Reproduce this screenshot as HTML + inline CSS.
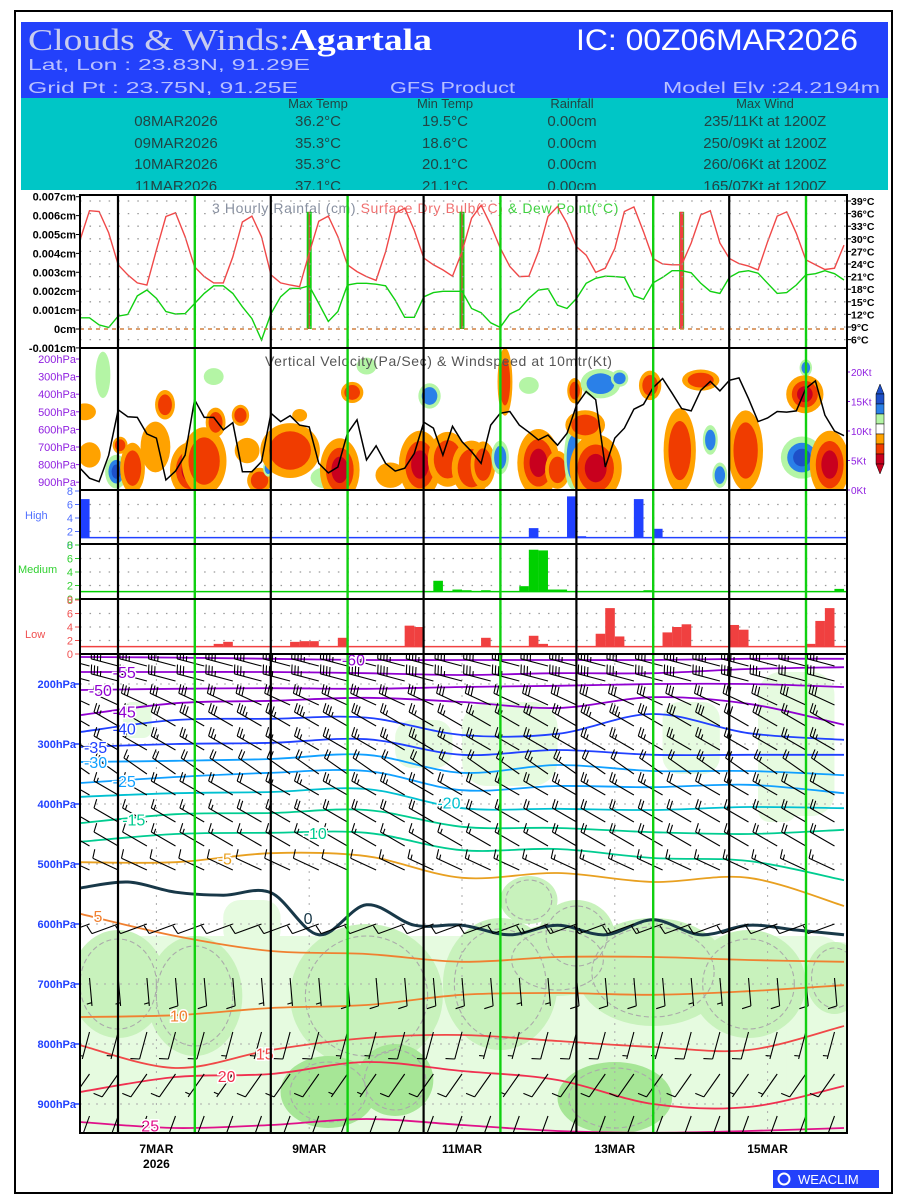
<!DOCTYPE html>
<html><head><meta charset="utf-8"><title>Clouds & Winds: Agartala</title>
<style>
html,body{margin:0;padding:0;background:#fff;}
svg{display:block;}
</style></head>
<body>
<svg id="chart" width="900" height="1200" viewBox="0 0 900 1200" xmlns="http://www.w3.org/2000/svg" font-family="Liberation Sans, sans-serif">
<defs>
<clipPath id="clipVV"><rect x="80" y="349" width="767" height="141"/></clipPath>
<clipPath id="clipMain"><rect x="80" y="655" width="767" height="478"/></clipPath>
<clipPath id="clipTop"><rect x="80" y="195" width="767" height="153"/></clipPath>
</defs>
<rect x="15" y="11" width="877" height="1182" fill="#fff" stroke="#000" stroke-width="2"/>
<g>
<rect x="21" y="22" width="867" height="76" fill="#2341fb"/>
<rect x="21" y="98" width="867" height="92" fill="#00c6c6"/>
<text x="28" y="50" style="font-family:'Liberation Serif',serif;font-size:31px" fill="#c8ccf0" textLength="404" lengthAdjust="spacingAndGlyphs">Clouds &amp; Winds:<tspan font-weight="bold" fill="#fff">Agartala</tspan></text>
<text x="576" y="50" style="font-size:30px" fill="#fff" textLength="282" lengthAdjust="spacingAndGlyphs">IC: 00Z06MAR2026</text>
<text x="28" y="70" style="font-size:16px" fill="#b8c0ff" textLength="282" lengthAdjust="spacingAndGlyphs">Lat, Lon : 23.83N, 91.29E</text>
<text x="28" y="93" style="font-size:16px" fill="#b8c0ff" textLength="270" lengthAdjust="spacingAndGlyphs">Grid Pt  : 23.75N, 91.25E</text>
<text x="390" y="93" style="font-size:16px" fill="#b8c0ff" textLength="125" lengthAdjust="spacingAndGlyphs">GFS Product</text>
<text x="663" y="93" style="font-size:16px" fill="#b8c0ff" textLength="217" lengthAdjust="spacingAndGlyphs">Model Elv :24.2194m</text>
<g style="font-size:13px" fill="#244" text-anchor="middle">
<text x="318" y="108">Max Temp</text>
<text x="445" y="108">Min Temp</text>
<text x="572" y="108">Rainfall</text>
<text x="765" y="108">Max Wind</text>
</g>
<g style="font-size:15px" fill="#244" text-anchor="middle">
<text x="176" y="126">08MAR2026</text><text x="318" y="126">36.2°C</text><text x="445" y="126">19.5°C</text><text x="572" y="126">0.00cm</text><text x="765" y="126">235/11Kt at 1200Z</text>
<text x="176" y="148">09MAR2026</text><text x="318" y="148">35.3°C</text><text x="445" y="148">18.6°C</text><text x="572" y="148">0.00cm</text><text x="765" y="148">250/09Kt at 1200Z</text>
<text x="176" y="169">10MAR2026</text><text x="318" y="169">35.3°C</text><text x="445" y="169">20.1°C</text><text x="572" y="169">0.00cm</text><text x="765" y="169">260/06Kt at 1200Z</text>
<text x="176" y="191">11MAR2026</text><text x="318" y="191">37.1°C</text><text x="445" y="191">21.1°C</text><text x="572" y="191">0.00cm</text><text x="765" y="191">165/07Kt at 1200Z</text>
</g>
</g>
<rect x="21" y="190" width="867" height="5" fill="#fff"/>
<g id="layer"></g>
<g>
<rect x="773" y="1170" width="106" height="18" fill="#2341fb"/>
<circle cx="784" cy="1179" r="5.5" fill="none" stroke="#fff" stroke-width="2"/>
<text x="798" y="1184" style="font-size:13px" fill="#fff">WEACLIM</text>
</g>
</svg>
<script>
// ---------- DATA ----------
const tempC = [29.7,36.7,36.5,31.4,23.8,21.4,19.5,19,27.3,35.3,36.2,30.5,23.3,21,19.5,19.5,25.7,34,35.4,30.5,21.4,19.5,19,18.6,26.6,34.2,35.4,30.5,23.8,22.2,21,20.1,26.9,36.1,37.3,32,25.4,23.8,22.6,21.1,26.9,34.9,38,33.3,27.8,23.4,21,21.1,26.9,35.3,37.7,33.7,28.1,26.1,22,23,27.7,36.5,37.6,31.7,25.3,24,23.8,23.8,29,35.7,36.7,29,25.3,24.1,23.5,22.6,29.3,35.4,36.4,31.3,25,23.8,22.7,23,28.5];
const dewC = [11.2,11.2,9.5,8.9,11.6,12,16.4,17.8,15.8,12.7,12.1,12.2,14.6,17,18.8,18.8,17,13.8,11,5.9,12.2,16.2,18.2,18.2,18.8,14.6,10.3,12.7,19,19.4,19.4,19.2,18.8,15.4,11.3,11.3,16.2,17.2,17.5,17.5,17.5,13.4,12.4,10,8.9,12.1,13.2,15.8,17.8,18.1,14.2,13.4,15.8,19.4,20.6,21.1,21,20.8,16.4,15.6,19.5,20.8,22.4,22.4,21.9,19.4,17.5,17,20.8,22.1,22.4,21.8,19.4,17,17.2,19,21.4,21.7,22.4,21.7,20.2];
const rainIdx = [24,40,63];
const rainCm = [0.0062,0.0062,0.0062];
const windKt = [3.7,2.0,1.4,5.9,13.6,12.4,12.3,9.5,8.8,1.7,3.2,5.9,15.3,12.3,12.3,10.2,11.4,3.1,3.1,4.8,13,11.6,12.6,11,10.7,4.5,2.9,3.9,9.6,11.9,5.1,7.5,4.5,3.2,3.7,6.2,11.5,10.5,5.9,10.8,8.2,6.5,4.5,11,13,13.3,11,9.8,8.5,9.3,7.6,9.6,14.4,16.7,15.3,3.9,8.8,10.5,13.7,14.5,17.3,18.9,16.4,13.8,13.4,16.9,18.4,16.8,18.6,19,15.5,11.6,12.2,13.3,13.2,13.4,17.2,18.5,12.7,10,9.2];
const vvIdx = [2.4,0.5,1,3.8,4.2,5.5,7.9,8.9,11.5,11.8,13,14.2,16.8,17.5,18.8,19.7,22,23,25.7,27.2,28.5,32.5,35.6,36.6,38.5,41,42.2,44,44.5,48,50,51.6,51.8,54.5,56.5,52.9,54,59.7,62.8,66,67,65,69.7,75.6,76,75.9,78.5,14,30,47];
const vvP = [290,500,745,840,690,820,700,460,830,800,780,560,520,720,890,820,720,520,875,830,390,860,800,410,770,820,800,760,330,790,830,760,380,340,310,575,820,350,720,660,860,320,720,760,250,400,800,300,240,350];
const vvRx = [0.6,0.9,0.9,0.9,0.6,1.0,1.2,0.8,1.6,0.3,1.8,0.8,0.7,1.0,1.0,0.4,2.4,0.6,1.2,1.6,0.9,1.2,1.7,0.9,1.6,1.6,1.0,0.7,0.6,1.7,1.0,0.7,0.6,1.6,0.7,1.6,2.1,0.9,1.3,0.6,0.6,1.5,1.4,1.7,0.5,1.5,1.6,0.8,0.8,0.8];
const vvRy = [110,40,60,80,40,120,120,70,130,40,160,70,50,60,60,40,130,30,50,150,50,60,160,60,130,130,110,80,160,160,90,150,60,70,40,70,160,70,200,70,60,50,190,100,40,90,160,40,40,40];
const vvLvl = [-1,1,1,-3,2,2,1,2,3,-2,2,2,2,1,2,-2,2,1,-1,3,2,1,3,-2,2,2,2,-2,2,3,2,-2,2,-2,-2,2,3,2,2,-2,-2,2,2,-3,-2,3,3,-1,-1,-1];
const hiIdx = [0,47,51,52,58,60];
const hiVal = [6.8,2.5,7.2,1.3,6.8,2.4];
const midIdx = [37,39,40,42,46,47,48,49,50,59,79];
const midVal = [2.7,1.4,1.3,1.3,1.9,7.3,7.2,1.4,1.4,1.3,1.5];
const lowIdx = [14,15,22,23,24,27,34,35,42,47,48,54,55,56,61,62,63,68,69,76,77,78];
const lowVal = [1.5,1.8,1.8,1.9,1.9,2.4,4.2,4.0,2.4,2.7,1.5,3.0,6.8,2.6,3.2,4.0,4.4,4.3,3.6,1.5,4.9,6.8];
const isoLevels = [-60,-55,-50,-45,-40,-35,-30,-25,-20,-15,-10,-5,0,5,10,15,20,25];
const isoM60 = [155,156,158,160,160,160,160,158,158];
const isoM55 = [180,180,180,182,185,182,182,175,172];
const isoM50 = [210,208,207,208,205,203,200,200,205];
const isoM45 = [252,232,228,223,230,240,222,233,268];
const isoM40 = [280,260,258,256,285,283,250,282,293];
const isoM35 = [305,300,298,292,318,310,318,318,318];
const isoM30 = [330,328,325,318,348,335,345,345,352];
const isoM25 = [365,355,348,345,377,370,372,368,382];
const isoM20 = [388,382,380,375,407,408,410,405,407];
const isoM15 = [432,417,415,410,438,440,447,450,443];
const isoM10 = [463,450,448,448,477,475,490,495,527];
const isoM5 = [497,497,482,487,523,515,530,523,570];
const isoZero = [540,530,547,552,548,618,568,602,602,618,602,618,593,618,602,610,618];
const isoP5 = [583,620,645,650,663,655,655,660,663];
const isoP10 = [755,752,740,735,718,715,718,712,702];
const isoP15 = [802,840,810,790,785,795,805,810,770];
const isoP20 = [880,855,850,830,845,860,900,905,870];
const isoP25 = [930,940,935,925,935,945,948,945,940];
const isoLabIdx = [27,3,0.5,3,3,0,0,3,37,4,23,14,23,1,9,18,14,6];
const rhIdx = [40,10,25,40,55,70,78,4,12,30,44,50,60,70,79,47,52,75,6,18,36,45,64,73,26,33,56];
const rhP = [790,820,800,790,810,800,790,700,720,720,700,660,680,700,690,560,620,300,260,600,300,300,290,380,880,860,890];
const rhRx = [40,10,8,8,9,10,4,5,5,8,6,6,8,6,3,3,4,4,1.5,3,3,5,3,2,5,4,6];
const rhRy = [170,140,160,160,150,150,160,90,100,120,110,60,90,90,60,40,60,120,30,40,40,70,60,50,60,60,60];
const rhLvl = [1,1,1,1,1,1,1,2,2,2,2,2,2,2,2,2,2,1,1,1,1,1,1,1,3,3,3];
const barbP = [170,195,235,270,310,350,385,430,470,510,600,690,780,850,920];
const barbDir = [285,285,295,300,300,305,300,300,300,295,250,175,195,215,200];
const spd170 = [40,40,35,35,35,40,40,45,45,45,45,45,45,40,40,40,40,45,45,40,40,45,45,45,40,35,35];
const spd195 = [35,35,30,30,30,35,35,35,35,40,40,40,40,35,35,35,35,40,40,35,35,40,40,40,35,30,30];
const spd235 = [30,30,30,30,30,30,30,30,30,30,30,30,30,30,30,30,30,30,30,30,30,30,30,30,30,30,30];
const spd270 = [25,25,25,30,30,30,35,35,35,35,30,25,25,25,25,25,30,30,35,35,30,30,30,30,30,25,25];
const spd310 = [20,20,20,25,25,25,25,25,25,25,25,25,25,25,25,25,25,25,25,25,25,25,25,25,25,25,25];
const spd350 = [15,15,15,20,20,20,20,20,20,20,20,20,20,20,20,25,25,25,20,20,20,20,25,25,25,20,20];
const spd385 = [15,15,15,20,20,20,20,25,25,25,25,25,20,20,20,20,20,25,25,25,25,20,20,25,25,20,20];
const spd430 = [10,10,15,15,15,15,20,20,20,20,20,20,20,20,20,20,20,20,20,20,20,20,20,20,20,20,20];
const spd470 = [10,10,10,15,15,15,15,15,15,15,15,15,15,15,15,15,15,20,20,20,20,20,15,15,20,20,20];
const spd510 = [10,10,10,10,10,10,10,10,10,10,10,15,15,15,15,15,15,15,15,15,15,15,15,15,15,15,15];
const spd600 = [10,10,10,10,10,10,10,10,10,10,10,10,10,10,10,10,15,15,15,15,15,10,10,10,10,10,10];
const spd690 = [5,5,5,10,10,10,5,5,5,10,10,10,10,10,10,5,5,10,10,10,10,5,5,10,10,10,10];
const spd780 = [5,5,10,10,10,5,5,10,10,5,5,10,10,10,5,5,10,10,10,5,5,10,10,10,5,5,5];
const spd850 = [10,10,10,10,5,5,10,10,10,5,5,10,10,10,10,5,10,10,10,10,10,10,10,5,5,10,10];
const spd920 = [10,10,10,5,5,10,10,10,5,5,10,10,5,5,10,10,10,5,5,10,10,10,5,5,10,10,10];
const tempTicks = [39,36,33,30,27,24,21,18,15,12,9,6];
const rainTicks = [0.007,0.006,0.005,0.004,0.003,0.002,0.001,0,-0.001];
const rainTickLabels = ["0.007cm","0.006cm","0.005cm","0.004cm","0.003cm","0.002cm","0.001cm","0cm","-0.001cm"];
const vvTicks = [200,300,400,500,600,700,800,900];
const ktTicks = [20,15,10,5,0];
const cloudTicks = [8,6,4,2,0];
const presTicks = [200,300,400,500,600,700,800,900];
const dayLabels = ["7MAR","9MAR","11MAR","13MAR","15MAR"];
const dayLabelIdx = [8,24,40,56,72];

// ---------- SCALES ----------
const X = i => 80 + i * 9.55;
const yT = t => 327 - (t - 9) * 4.2;
const yR = r => 329 - r * 18900;
const yK = k => 490 - k * 5.9;
const yV = p => 359 + (p - 200) * 0.176;
const yM = p => 684 + (p - 200) * 0.6;
const yHi = v => 545 - v * 6.75;
const yMid = v => 599 - v * 6.75;
const yLow = v => 654 - v * 6.75;

const NS = 'http://www.w3.org/2000/svg';
const root = document.getElementById('layer');
function mk(tag, attrs, parent) {
  const e = document.createElementNS(NS, tag);
  for (const k in attrs) e.setAttribute(k, attrs[k]);
  (parent || root).appendChild(e);
  return e;
}
function txt(x, y, s, attrs, parent) {
  const e = mk('text', Object.assign({x: x, y: y}, attrs), parent);
  e.textContent = s;
  return e;
}
function group(name, clip) {
  const g = mk('g', clip ? {'clip-path': 'url(#' + clip + ')'} : {});
  
  
  return g;
}
function linePath(xs, ys) {
  return xs.map((x, i) => (i ? 'L' : 'M') + x.toFixed(1) + ' ' + ys[i].toFixed(1)).join(' ');
}
function smoothPath(pts) {
  let d = 'M' + pts[0][0] + ' ' + pts[0][1];
  for (let i = 0; i < pts.length - 1; i++) {
    const p0 = pts[Math.max(0, i - 1)], p1 = pts[i], p2 = pts[i + 1], p3 = pts[Math.min(pts.length - 1, i + 2)];
    const c1x = p1[0] + (p2[0] - p0[0]) / 6, c1y = p1[1] + (p2[1] - p0[1]) / 6;
    const c2x = p2[0] - (p3[0] - p1[0]) / 6, c2y = p2[1] - (p3[1] - p1[1]) / 6;
    d += ' C' + c1x.toFixed(1) + ' ' + c1y.toFixed(1) + ' ' + c2x.toFixed(1) + ' ' + c2y.toFixed(1) + ' ' + p2[0].toFixed(1) + ' ' + p2[1].toFixed(1);
  }
  return d;
}

// ---------- TOP PANEL ----------
const gTop = group('rain-temp-panel');
const gTopGrid = group('rain-temp-grid', 'clipTop');
tempTicks.forEach(t => {
  const l = mk('line', {x1: 80, x2: 847, y1: yT(t), y2: yT(t), stroke: '#999', 'stroke-width': 1.3, 'stroke-dasharray': '1.5 8.05'}, gTopGrid);
  
  
});
const zl = mk('line', {x1: 80, x2: 847, y1: yR(0), y2: yR(0), stroke: '#d08040', 'stroke-width': 1.5, 'stroke-dasharray': '4 4'}, gTopGrid);


const tt = txt(212, 213, '3 Hourly Rainfal (cm) ', {style: 'font-size:14px', fill: '#8890a0', 'letter-spacing': 0.6}, gTop);


const ts1 = mk('tspan', {fill: '#f07070'}, tt); ts1.textContent = 'Surface Dry Bulb(°C) ';
const ts2 = mk('tspan', {fill: '#40d040'}, tt); ts2.textContent = ' & Dew Point(°C)';
rainIdx.forEach((ix, k) => {
  const g = mk('g', {}, gTop);
  
  
  const redBar = k === rainIdx.length - 1;
  const h = yR(0) - yR(rainCm[k]);
  if (redBar) {
    mk('rect', {x: X(ix) - 2.5, y: yR(rainCm[k]), width: 5, height: h, fill: '#10d010'}, g);
    mk('rect', {x: X(ix) - 1.8, y: yR(rainCm[k]), width: 3.6, height: h, fill: '#f04040'}, g);
  } else {
    mk('rect', {x: X(ix) - 2.5, y: yR(rainCm[k]), width: 5, height: h, fill: '#10d010'}, g);
    mk('rect', {x: X(ix) - 0.6, y: yR(rainCm[k]), width: 1.2, height: h, fill: '#f04040'}, g);
  }
});
const tLine = mk('path', {d: linePath(tempC.map((_, i) => X(i)), tempC.map(yT)), fill: 'none', stroke: '#f04848', 'stroke-width': 1.4}, gTop);


const dLine = mk('path', {d: linePath(dewC.map((_, i) => X(i)), dewC.map(yT)), fill: 'none', stroke: '#10d010', 'stroke-width': 1.4}, gTop);


rainTicks.forEach((r, k) => {
  const t = txt(76, yR(r) + 4, rainTickLabels[k], {style: 'font-size:11px', 'font-weight': 'bold', 'text-anchor': 'end', fill: '#000'}, gTop);
  
  
  mk('line', {x1: 76, x2: 80, y1: yR(r), y2: yR(r), stroke: '#000'}, gTop);
});
tempTicks.forEach(tv => {
  const t = txt(851, yT(tv) + 4, tv + '°C', {style: 'font-size:10.5px', 'font-weight': 'bold', fill: '#000'}, gTop);
  
  
  mk('line', {x1: 847, x2: 851, y1: yT(tv), y2: yT(tv), stroke: '#000'}, gTop);
});

// ---------- VERTICAL VELOCITY ----------
const gVV = group('vertical-velocity-panel', 'clipVV');
const posCols = ['#ffa200', '#f03c00', '#c8001e'];
const negCols = ['#b4f5a5', '#2a80e8', '#1e50c8'];
const scales = [1, 0.7, 0.42];
vvIdx.forEach((ix, k) => {
  const lvl = vvLvl[k];
  const cols = lvl > 0 ? posCols : negCols;
  const n = Math.abs(lvl);
  const g = mk('g', {}, gVV);
  
  
  for (let j = 0; j < n; j++) {
    mk('ellipse', {cx: X(ix), cy: yV(vvP[k]), rx: vvRx[k] * 9.55 * 1.3 * scales[j], ry: vvRy[k] * 0.176 * 1.2 * scales[j], fill: cols[j]}, g);
  }
});
const vvT = txt(265, 366, 'Vertical Velocity(Pa/Sec) & Windspeed at 10mtr(Kt)', {style: 'font-size:14px', fill: '#555', 'letter-spacing': 0.6}, gVV);


const kLine = mk('path', {d: linePath(windKt.map((_, i) => X(i)), windKt.map(yK)), fill: 'none', stroke: '#000', 'stroke-width': 1.5}, gVV);


const gVVax = group('vv-axes');
vvTicks.forEach(p => {
  const t = txt(76, yV(p) + 4, p + 'hPa', {style: 'font-size:11px', fill: '#9020e0', 'text-anchor': 'end'}, gVVax);
  
  
  mk('line', {x1: 76, x2: 80, y1: yV(p), y2: yV(p), stroke: '#9020e0'}, gVVax);
});
ktTicks.forEach(k => {
  const t = txt(851, yK(k) + 4, k + 'Kt', {style: 'font-size:10px', fill: '#9020e0'}, gVVax);
  
  
  mk('line', {x1: 847, x2: 850, y1: yK(k), y2: yK(k), stroke: '#9020e0'}, gVVax);
});
const legCols = ['#1e50c8', '#2a80e8', '#b4f5a5', '#ffffff', '#ffa200', '#f03c00', '#c8001e'];
const gLeg = group('vv-colorbar');
mk('polygon', {points: '876,394 880,384 884,394', fill: '#1e50c8', stroke: '#000', 'stroke-width': 0.5}, gLeg);
legCols.forEach((c, k) => {
  const r = mk('rect', {x: 876, y: 394 + k * 10, width: 8, height: 10, fill: c, stroke: '#000', 'stroke-width': 0.5}, gLeg);
  
  
});
mk('polygon', {points: '876,464 880,474 884,464', fill: '#c8001e', stroke: '#000', 'stroke-width': 0.5}, gLeg);

// ---------- CLOUD PANELS ----------
function cloudPanel(name, yFn, idxs, vals, color, label, labelX, labelY, tickColor) {
  const g = group(name);
  [2, 4, 6].forEach(v => mk('line', {x1: 80, x2: 847, y1: yFn(v), y2: yFn(v), stroke: '#999', 'stroke-width': 1.3, 'stroke-dasharray': '1.5 8.05'}, g));
  const base = 1.1;
  const bl = mk('line', {x1: 80, x2: 847, y1: yFn(base), y2: yFn(base), stroke: color, 'stroke-width': 1.5}, g);
  
  
  idxs.forEach((ix, k) => {
    const r = mk('rect', {x: X(ix + 0.5) - 4.8, y: yFn(vals[k]), width: 9.6, height: Math.max(0, yFn(base) - yFn(vals[k])), fill: color}, g);
    
    
  });
  cloudTicks.forEach(v => {
    const t = txt(73, yFn(v) + 4, String(v), {style: 'font-size:11px', fill: tickColor, 'text-anchor': 'end'}, g);
    
    
    mk('line', {x1: 75, x2: 80, y1: yFn(v), y2: yFn(v), stroke: tickColor}, g);
  });
  const lt = txt(labelX, labelY, label, {style: 'font-size:11px', fill: tickColor}, g);
  
  
}
cloudPanel('high-cloud-panel', yHi, hiIdx, hiVal, '#2040ff', 'High', 25, 519, '#5070ff');
cloudPanel('medium-cloud-panel', yMid, midIdx, midVal, '#00d000', 'Medium', 18, 573, '#30d030');
cloudPanel('low-cloud-panel', yLow, lowIdx, lowVal, '#f04040', 'Low', 25, 638, '#f05050');

// ---------- MAIN PANEL ----------
const gMain = group('temperature-wind-section', 'clipMain');
const rhCols = ['#e6fbe0', '#c8f2bc', '#a6e696'];
[1, 2, 3].forEach(L => {
  rhIdx.forEach((ix, k) => {
    if (rhLvl[k] !== L) return;
    const w = rhRx[k] * 9.55, h = rhRy[k] * 0.6;
    const e = L === 1
      ? mk('rect', {x: X(ix) - w, y: yM(rhP[k]) - h, width: 2 * w, height: 2 * h, rx: Math.min(25, w * 0.6), fill: rhCols[0]}, gMain)
      : mk('ellipse', {cx: X(ix), cy: yM(rhP[k]), rx: w, ry: h, fill: rhCols[L - 1]}, gMain);
    
    
  });
});
rhIdx.forEach((ix, k) => {
  if (rhLvl[k] < 2) return;
  const e = mk('ellipse', {cx: X(ix), cy: yM(rhP[k]), rx: rhRx[k] * 9.55 * 0.8, ry: rhRy[k] * 0.5, fill: 'none', stroke: '#aaa', 'stroke-width': 1.1, 'stroke-dasharray': '5 3'}, gMain);
  
  
});
presTicks.forEach(p => mk('line', {x1: 80, x2: 847, y1: yM(p), y2: yM(p), stroke: '#aaa', 'stroke-width': 1, 'stroke-dasharray': '2 6'}, gMain));
dayLabelIdx.forEach(ix => mk('line', {x1: X(ix), x2: X(ix), y1: 655, y2: 1133, stroke: '#aaa', 'stroke-width': 1, 'stroke-dasharray': '2 6'}, gMain));
const isoData = [isoM60, isoM55, isoM50, isoM45, isoM40, isoM35, isoM30, isoM25, isoM20, isoM15, isoM10, isoM5, isoZero, isoP5, isoP10, isoP15, isoP20, isoP25];
const isoColor = ['#9000d0', '#9000d0', '#9000d0', '#9000d0', '#2040ff', '#2040ff', '#10a0ff', '#10a0ff', '#00c0d0', '#00cc90', '#00cc90', '#e8a020', '#183848', '#f08030', '#f08030', '#f04848', '#f03050', '#e0108a'];
const labels = [];
isoData.forEach((arr, k) => {
  const n = arr.length;
  const pts = arr.map((p, j) => [X(j * 80 / (n - 1)), yM(p)]);
  const pth = mk('path', {d: smoothPath(pts), fill: 'none', stroke: isoColor[k], 'stroke-width': isoLevels[k] === 0 ? 3 : 1.8}, gMain);
  
  
  const li = isoLabIdx[k];
  const pos = li / 80 * (n - 1);
  const j0 = Math.min(n - 2, Math.floor(pos));
  const f = pos - j0;
  labels.push([X(li) + 4, yM(arr[j0] * (1 - f) + arr[j0 + 1] * f) + 6, k]);
});
const barbSpeeds = [spd170, spd195, spd235, spd270, spd310, spd350, spd385, spd430, spd470, spd510, spd600, spd690, spd780, spd850, spd920];
const gBarb = group('wind-barbs', 'clipMain');
barbP.forEach((p, r) => {
  const dir = barbDir[r] * Math.PI / 180;
  const dx = Math.sin(dir), dy = -Math.cos(dir);
  const tx = -dy, ty = dx;
  barbSpeeds[r].forEach((s, c) => {
    const x0 = X(1 + c * 3), y0 = yM(p);
    const L = 28;
    const ex = x0 + dx * L, ey = y0 + dy * L;
    let d = 'M' + x0.toFixed(1) + ' ' + y0.toFixed(1) + ' L' + ex.toFixed(1) + ' ' + ey.toFixed(1);
    let rem = Math.round(s / 5) * 5;
    let pos = 0;
    while (rem >= 10) {
      const bx = ex - dx * pos, by = ey - dy * pos;
      d += ' M' + bx.toFixed(1) + ' ' + by.toFixed(1) + ' L' + (bx + tx * 9 + dx * 2).toFixed(1) + ' ' + (by + ty * 9 + dy * 2).toFixed(1);
      rem -= 10; pos += 3.2;
    }
    if (rem >= 5) {
      if (pos === 0) pos = 3.2;
      const bx = ex - dx * pos, by = ey - dy * pos;
      d += ' M' + bx.toFixed(1) + ' ' + by.toFixed(1) + ' L' + (bx + tx * 5 + dx * 1).toFixed(1) + ' ' + (by + ty * 5 + dy * 1).toFixed(1);
    }
    const b = mk('path', {d: d, fill: 'none', stroke: '#000', 'stroke-width': 1.1}, gBarb);
    
    
  });
});
const gIsoLab = group('isotherm-labels', 'clipMain');
labels.forEach(l => {
  const k = l[2];
  const lab = txt(l[0], l[1], String(isoLevels[k]), {style: 'font-size:16px', fill: isoColor[k], stroke: '#fff', 'stroke-width': 3, 'paint-order': 'stroke'}, gIsoLab);
  
  
});
const gMainAx = group('section-axes');
presTicks.forEach(p => {
  const t = txt(76, yM(p) + 4, p + 'hPa', {style: 'font-size:11px', 'font-weight': 'bold', fill: '#2040ff', 'text-anchor': 'end'}, gMainAx);
  
  
  mk('line', {x1: 75, x2: 80, y1: yM(p), y2: yM(p), stroke: '#2040ff', 'stroke-width': 1.5}, gMainAx);
});
dayLabels.forEach((s, k) => {
  const t = txt(X(dayLabelIdx[k]), 1153, s, {style: 'font-size:12px', 'font-weight': 'bold', fill: '#000', 'text-anchor': 'middle'}, gMainAx);
  
  
});
const yr = txt(X(dayLabelIdx[0]), 1168, '2026', {style: 'font-size:12px', 'font-weight': 'bold', fill: '#000', 'text-anchor': 'middle'}, gMainAx);



const gDays = group('day-dividers');
[4, 20, 36, 52, 68].forEach(ix => {
  const l = mk('line', {x1: X(ix) - 0.2, x2: X(ix) - 0.2, y1: 195, y2: 1133, stroke: '#000', 'stroke-width': 2.2}, gDays);
  
  
});
[12, 28, 44, 60, 76].forEach(ix => {
  const l = mk('line', {x1: X(ix) + 0.2, x2: X(ix) + 0.2, y1: 195, y2: 1133, stroke: '#10d010', 'stroke-width': 2.4}, gDays);
  
  
});
const gFr = group('panel-frames');
[[195, 348], [348, 490], [490, 544], [544, 599], [599, 654], [654, 1133]].forEach(f => {
  const r = mk('rect', {x: 80, y: f[0], width: 767, height: f[1] - f[0], fill: 'none', stroke: '#000', 'stroke-width': 2}, gFr);
  
  
});
</script>
</body></html>
